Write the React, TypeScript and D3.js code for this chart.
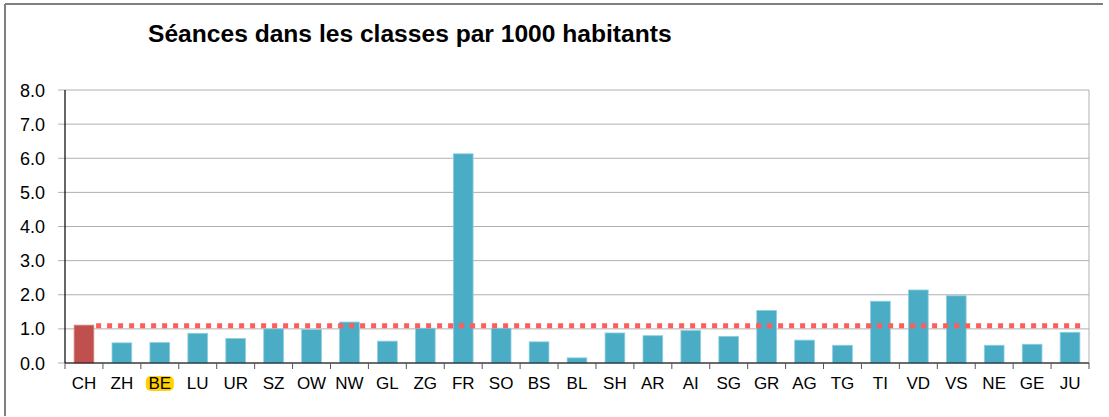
import React from "react";
import * as d3 from "d3";

const categories = ["CH","ZH","BE","LU","UR","SZ","OW","NW","GL","ZG","FR","SO","BS","BL","SH","AR","AI","SG","GR","AG","TG","TI","VD","VS","NE","GE","JU"];
const values = [1.11,0.59,0.60,0.87,0.72,1.00,0.98,1.20,0.64,1.02,6.13,1.02,0.62,0.15,0.88,0.80,0.95,0.78,1.54,0.67,0.52,1.81,2.14,1.97,0.52,0.55,0.90];
const average = [1.09];
const yTicks = [0,1,2,3,4,5,6,7,8];
const highlighted = ["BE"];
const title = "Séances dans les classes par 1000 habitants";

export default function App() {
  const W = 1109, H = 417;
  const left = 65, right = 1089, top = 90, bottom = 363;
  const x = d3.scaleBand<string>().domain(categories).range([left, right]).paddingInner(0.48).paddingOuter(0.24);
  const y = d3.scaleLinear().domain([0, 8]).range([bottom, top]);
  const step = x.step();
  const font = "Arial, 'Liberation Sans', Helvetica, sans-serif";
  const avgY = y(average[0]);
  return (
    <svg width={W} height={H} style={{ display: "block", position: "absolute", left: 0, top: 0 }} fontFamily={font}>
      <rect x={0} y={0} width={W} height={H} fill="#fff" />
      <line x1={5} y1={4} x2={1103} y2={4} stroke="#7f7f7f" strokeWidth={2} />
      <line x1={5} y1={4} x2={5} y2={416} stroke="#7f7f7f" strokeWidth={2} />
      <text x={148} y={42} fontSize={24.6} fontWeight="bold" fill="#000">{title}</text>
      {yTicks.map((t) => (
        <g key={t}>
          <line x1={58} x2={right} y1={y(t)} y2={y(t)} stroke="#b0b0b0" strokeWidth={1} />
          <text x={45} y={y(t) + 6.5} fontSize={18} textAnchor="end" fill="#000">{t.toFixed(1)}</text>
        </g>
      ))}
      <line x1={right} x2={right} y1={top} y2={bottom} stroke="#b0b0b0" strokeWidth={1} />
      {categories.map((c, i) => (
        <rect key={c} x={x(c)} y={y(values[i])} width={x.bandwidth()} height={bottom - y(values[i])}
          fill={i === 0 ? "#c0504d" : "#4bacc6"} stroke={i === 0 ? "#d98a88" : "#8fcfdf"} strokeWidth={0.8} />
      ))}
      <line x1={left + step * 0.82} x2={left + step * 26.84} y1={avgY} y2={avgY} stroke="#ff5c5c" strokeWidth={5} strokeDasharray="5 6" />
      <line x1={left} x2={left} y1={top} y2={bottom} stroke="#000" strokeWidth={1.2} />
      <line x1={left} x2={right} y1={bottom} y2={bottom} stroke="#000" strokeWidth={1.2} />
      {d3.range(categories.length + 1).map((i) => (
        <line key={i} x1={left + i * step} x2={left + i * step} y1={bottom} y2={bottom + 6} stroke="#555" strokeWidth={1} />
      ))}
      {categories.map((c) => {
        const cx = (x(c) as number) + x.bandwidth() / 2;
        return (
          <g key={c}>
            {highlighted.includes(c) && (
              <rect x={cx - 14} y={376} width={28} height={15} rx={5} fill="#ffd200" />
            )}
            <text x={cx} y={389} fontSize={17} textAnchor="middle" fill="#000">{c}</text>
          </g>
        );
      })}
    </svg>
  );
}
